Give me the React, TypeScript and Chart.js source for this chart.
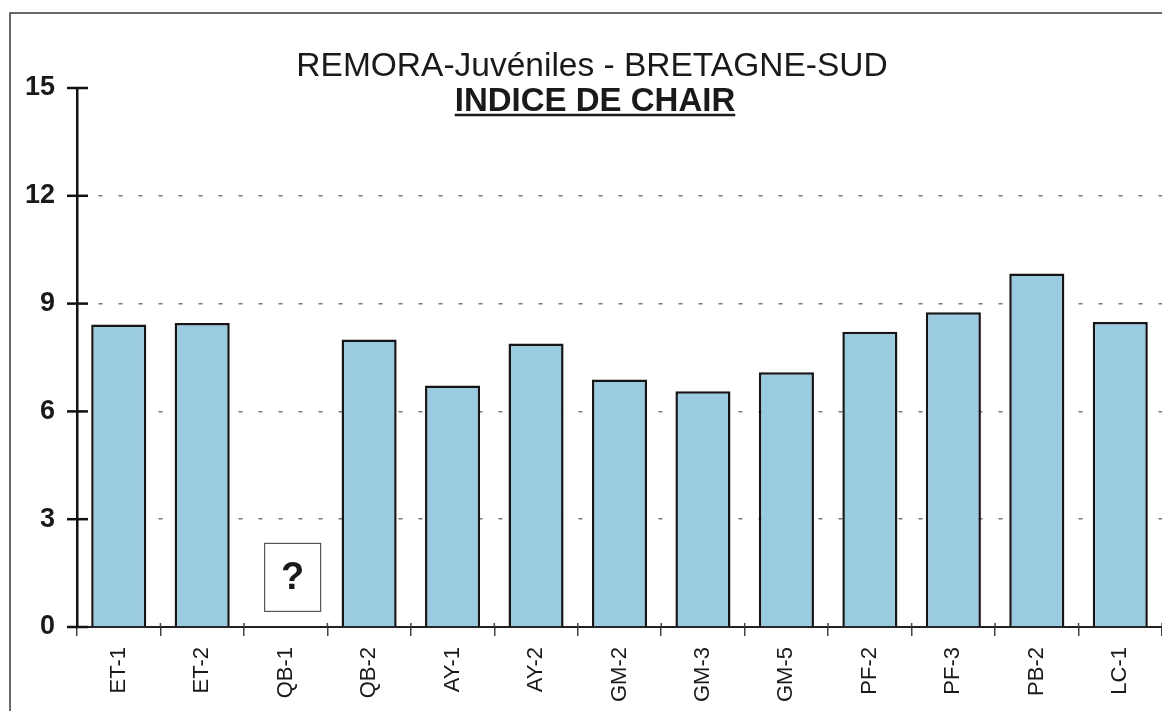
import React, { useEffect, useRef } from "react";
import { Chart, registerables } from "chart.js";

Chart.register(...registerables);

const categories = ["ET-1", "ET-2", "QB-1", "QB-2", "AY-1", "AY-2", "GM-2", "GM-3", "GM-5", "PF-2", "PF-3", "PB-2", "LC-1"];
const indiceChair: (number | null)[] = [8.42, 8.46, null, 8.0, 6.72, 7.89, 6.89, 6.56, 7.09, 8.22, 8.76, 9.84, 8.49];
const yTicks = [0, 3, 6, 9, 12, 15];
const titleText = "REMORA-Juvéniles - BRETAGNE-SUD";
const subtitleText = "INDICE DE CHAIR";
const missingIndex = 2;
const missingMarkerValue = 1.38;

const W = 1162;
const H = 711;

export default function App() {
  const ref = useRef<HTMLCanvasElement | null>(null);

  useEffect(() => {
    document.body.style.margin = "0";
    document.body.style.overflow = "hidden";
    const canvas = ref.current;
    if (!canvas) return;

    const decor = {
      id: "decor",
      beforeDraw(chart: any) {
        const ctx = chart.ctx;
        ctx.save();
        ctx.fillStyle = "#ffffff";
        ctx.fillRect(0, 0, chart.width, chart.height);
        ctx.strokeStyle = "#3a3a3a";
        ctx.lineWidth = 1.5;
        ctx.beginPath();
        ctx.moveTo(10, chart.height);
        ctx.lineTo(10, 13);
        ctx.lineTo(chart.width, 13);
        ctx.stroke();
        ctx.restore();
      },
      afterDraw(chart: any) {
        const ctx = chart.ctx;
        const y = chart.scales.y;
        const x = chart.scales.x;
        const area = chart.chartArea;
        ctx.save();
        // cross ticks on y axis
        ctx.strokeStyle = "#111";
        ctx.lineWidth = 2.5;
        const ax = area.left;
        yTicks.forEach((v) => {
          const py = y.getPixelForValue(v);
          ctx.beginPath();
          ctx.moveTo(ax - 10, py);
          ctx.lineTo(ax + 11, py);
          ctx.stroke();
        });
        // small upward part of x ticks (category boundaries)
        ctx.strokeStyle = "#444";
        ctx.lineWidth = 1.5;
        for (let i = 1; i <= categories.length; i++) {
          const bx = (x.getPixelForValue(i - 1) + x.getPixelForValue(i)) / 2;
          const px = i === categories.length ? x.getPixelForValue(i - 1) * 2 - x.getPixelForValue(i - 2) - (x.getPixelForValue(i - 1) - x.getPixelForValue(i - 2)) / 2 : bx;
          ctx.beginPath();
          ctx.moveTo(px, area.bottom - 4);
          ctx.lineTo(px, area.bottom);
          ctx.stroke();
        }
        // titles
        ctx.fillStyle = "#1a1a1a";
        ctx.textAlign = "center";
        ctx.textBaseline = "alphabetic";
        ctx.font = "33.5px Arial, 'Liberation Sans', sans-serif";
        ctx.fillText(titleText, 592, 76);
        ctx.font = "bold 33px Arial, 'Liberation Sans', sans-serif";
        ctx.fillText(subtitleText, 595, 111);
        const sw = ctx.measureText(subtitleText).width;
        ctx.strokeStyle = "#1a1a1a";
        ctx.lineWidth = 2.5;
        ctx.beginPath();
        ctx.moveTo(595 - sw / 2, 115);
        ctx.lineTo(595 + sw / 2, 115);
        ctx.stroke();
        // missing data marker
        const cx = x.getPixelForValue(missingIndex) + 7;
        const cy = y.getPixelForValue(missingMarkerValue);
        ctx.strokeStyle = "#555";
        ctx.lineWidth = 1.2;
        ctx.fillStyle = "#ffffff";
        ctx.fillRect(cx - 28, cy - 34, 56, 68);
        ctx.strokeRect(cx - 28, cy - 34, 56, 68);
        ctx.fillStyle = "#1a1a1a";
        ctx.font = "bold 38px Arial, 'Liberation Sans', sans-serif";
        ctx.textBaseline = "middle";
        ctx.fillText("?", cx, cy + 1);
        ctx.restore();
      },
    };

    const chart = new Chart(canvas, {
      type: "bar",
      data: {
        labels: categories,
        datasets: [
          {
            data: indiceChair as any,
            backgroundColor: "#9bcbe1",
            borderColor: "#151515",
            borderWidth: 2.5,
            barPercentage: 0.66,
            categoryPercentage: 1,
          },
        ],
      },
      options: {
        responsive: false,
        animation: false,
        layout: { padding: { top: 88, left: 0, right: 0, bottom: 0 } },
        plugins: {
          legend: { display: false },
          title: { display: false },
          tooltip: { enabled: false },
        },
        scales: {
          x: {
            offset: true,
            afterFit(scale: any) {
              scale.height = 84;
            },
            grid: {
              display: true,
              offset: true,
              drawOnChartArea: false,
              drawTicks: true,
              tickLength: 9,
              color: "#444",
              lineWidth: 1.5,
            },
            border: { display: true, color: "#222", width: 2 },
            ticks: {
              maxRotation: 90,
              minRotation: 90,
              padding: 11,
              color: "#1a1a1a",
              font: { family: "Arial, 'Liberation Sans', sans-serif", size: 22 },
              autoSkip: false,
            },
          },
          y: {
            min: 0,
            max: 15,
            afterFit(scale: any) {
              scale.width = 77;
            },
            afterBuildTicks(scale: any) {
              scale.ticks = yTicks.map((v) => ({ value: v }));
            },
            grid: {
              drawTicks: false,
              color: (c: any) => {
                const v = c.tick ? c.tick.value : null;
                return v === 0 || v === 15 ? "rgba(0,0,0,0)" : "#777";
              },
              lineWidth: 1.5,
            },
            border: { display: true, color: "#111", width: 2.5, dash: [4, 16], dashOffset: -20 } as any,
            ticks: {
              padding: 22,
              color: "#1a1a1a",
              font: { family: "Arial, 'Liberation Sans', sans-serif", size: 27, weight: "bold" },
            },
          },
        },
      },
      plugins: [decor],
    } as any);

    return () => chart.destroy();
  }, []);

  return (
    <div style={{ width: W, height: H, position: "relative", overflow: "hidden" }}>
      <canvas ref={ref} width={W} height={H} style={{ display: "block" }} />
    </div>
  );
}
